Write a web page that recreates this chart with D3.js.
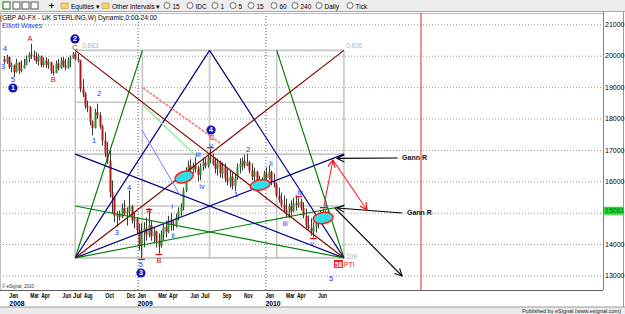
<!DOCTYPE html>
<html>
<head>
<meta charset="utf-8">
<script src="https://cdnjs.cloudflare.com/ajax/libs/d3/7.8.5/d3.min.js"></script>
<style>
  body { margin: 0; background: #fff; }
  svg { display: block; font-family: "Liberation Sans", Arial, sans-serif; }
</style>
</head>
<body>
<svg id="chart" width="625" height="314"></svg>
<script>
/* global d3 */

// weekly GBP/USD bars (x10000), first bar = week of 17 Dec 2007
var firstWeek = new Date(2007, 11, 17);
var opens = [
  19900,19800,19960,19640,19700,19480,19780,19520,19600,19700,
  19900,20050,20000,19950,19820,19980,19700,19850,19700,19800,
  19500,19450,19750,19600,19850,19700,19620,19880,19920,20050,
  19900,19850,18950,18800,18400,18350,17900,17700,18200,18100,
  17750,17300,16900,16650,15650,15500,14900,14950,14850,15150,
  14980,15050,15200,14750,14800,14450,13950,14400,14500,14300,
  14600,14250,14400,14100,13950,14300,14550,14400,14750,14650,
  14600,14850,15050,15200,15700,16300,16500,16350,16500,16400,
  16200,16450,16600,16500,16750,16700,16550,16400,16600,16250,
  16450,16100,16000,16150,15850,16100,16450,16550,16650,16500,
  16600,16350,16150,16300,16000,15950,16050,16250,16100,16300,
  16000,15900,15550,15400,15250,15100,15000,15200,15050,15300,
  15250,15350,15150,14900,14600,14500,14400,14550,14700,14800,
  14900,14850,15000
];
var highs = [
  19990,20030,19980,19790,19720,19900,19800,19850,19900,20010,
  20110,20380,20170,20110,20060,20010,19950,19950,19900,19810,
  19690,19850,19900,19950,19950,19900,19950,20010,20110,20110,
  20060,19870,19260,18840,18570,18400,17940,18310,18470,18200,
  17800,17560,17250,16980,16030,15520,15050,15070,15290,15400,
  15170,15710,15250,15000,14850,14660,14660,14700,14850,15070,
  14750,14530,14430,14340,14430,14660,14750,14900,15000,14750,
  14970,15170,15300,15800,16440,16660,16700,16600,16760,16500,
  16570,16760,16730,16820,17040,16880,16760,16730,16660,16600,
  16570,16410,16340,16280,16250,16570,16730,16760,16850,16880,
  16660,16570,16440,16340,16180,16120,16340,16440,16500,16340,
  16250,15960,15800,15640,15550,15450,15290,15390,15480,15550,
  15480,15450,15330,15130,14910,14820,14690,14820,14970,15070,
  15130,15070,15100
];
var lows = [
  19740,19740,19580,19470,19320,19460,19420,19470,19590,19690,
  19790,19900,19850,19740,19690,19630,19630,19600,19580,19420,
  19370,19440,19530,19580,19630,19530,19580,19630,19900,19850,
  19790,18840,18680,18310,18200,17780,17460,17680,17990,17670,
  17140,16770,16550,15480,14970,14690,14560,14750,14820,14900,
  14590,14900,14660,14500,14340,13800,13540,13900,14110,14210,
  14110,14020,13890,13700,13890,14110,14210,14350,14430,14430,
  14530,14750,14900,15070,15650,16120,16200,16250,16280,16000,
  16030,16340,16410,16440,16570,16500,16250,16180,16120,16090,
  15960,15870,15800,15740,15680,16050,16250,16340,16410,16480,
  16250,16030,15930,15870,15770,15800,15930,15960,16050,15870,
  15800,15480,15320,15160,15010,14850,14820,14910,15010,15070,
  15160,15070,14820,14500,14430,14270,14210,14370,14500,14660,
  14750,14820,14940
];
var closes = [
  19800,19960,19640,19700,19480,19780,19520,19600,19700,19900,
  20050,20000,19950,19820,19980,19700,19850,19700,19800,19500,
  19450,19750,19600,19850,19700,19620,19880,19920,20050,19900,
  19850,18950,18800,18400,18350,17900,17700,18200,18100,17750,
  17300,16900,16650,15650,15500,14900,14950,14850,15150,14980,
  15050,15200,14750,14800,14450,13950,14400,14500,14300,14600,
  14250,14400,14100,13950,14300,14550,14400,14750,14650,14600,
  14850,15050,15200,15700,16300,16500,16350,16500,16400,16200,
  16450,16600,16500,16750,16700,16550,16400,16600,16250,16450,
  16100,16000,16150,15850,16100,16450,16550,16650,16500,16600,
  16350,16150,16300,16000,15950,16050,16250,16100,16300,16000,
  15900,15550,15400,15250,15100,15000,15200,15050,15300,15250,
  15350,15150,14900,14600,14500,14400,14550,14700,14800,14900,
  14850,15000,15061
];
var lastPrice = 15061;

var priceTicks = [13000, 14000, 15000, 16000, 17000, 18000, 19000, 20000, 21000];
var monthTicks = ['2008-01', '2008-03', '2008-04', '2008-06', '2008-07', '2008-08', '2008-10', '2008-12',
  '2009-01', '2009-03', '2009-04', '2009-06', '2009-07', '2009-09', '2009-11',
  '2010-01', '2010-03', '2010-04', '2010-06'];
var yearTicks = ['2008-01', '2009-01', '2010-01'];
var timeMarker = new Date(2011, 2, 21);

// gann box: time span and price span
var gannStart = new Date(2008, 6, 7), gannEnd = new Date(2010, 7, 13);
var gannTop = 20170, gannBottom = 13560;
// fan lines: corner, target (fraction of width, fraction of height), colour
var fanLines = [
  ['bl', 0.25, 1, 'g'], ['bl', 0.5, 1, 'n'], ['bl', 1, 1, 'm'], ['bl', 1, 0.5, 'n'], ['bl', 1, 0.25, 'g'],
  ['br', 0.75, 1, 'g'], ['br', 0.5, 1, 'n'], ['br', 0, 1, 'm'], ['br', 0, 0.5, 'n'], ['br', 0, 0.25, 'g']
];

// other drawings, positions as [week index, price]
var channels = [
  [56.6, 18972, 88.1, 17220, '#f08080', '3,1', 1.6],
  [56.6, 18430, 78.7, 16774, '#90ee90', null, 1.4],
  [56.2, 17634, 71.7, 15564, '#7878ff', null, 1]
];
var arrows = [
  [160.5, 16740, 135.8, 16730, 'k'],
  [162.3, 14990, 135.8, 15150, 'k'],
  [134.9, 15150, 162.3, 12984, 'k'],
  [130.5, 15245, 134.1, 16678, 'r'],
  [134.1, 16678, 148.0, 15086, 'r']
];
var notes = [['Gann R', 162.3, 16750], ['Gann R', 164.3, 15020]];
var ellipses = [
  [73.4, 16137, 9.5, 5.5, -18],
  [104.4, 15882, 10, 5, -10],
  [130.1, 14831, 10, 5.5, -8]
];
var waveLabels = [
  ['4', 0.4, 20245, 'b'], ['3', -0.45, 19673, 'b'], ['5', 3.6, 19258, 'b'],
  ['A', 10.6, 20565, 'r'], ['B', 20, 19258, 'r'], ['C', 28.9, 20278, 'r'],
  ['2', 38.7, 18813, 'b'], ['1', 36.7, 17316, 'b'], ['4', 51, 15819, 'b'], ['3', 46, 14385, 'b'],
  ['A', 59.1, 15086, 'r'], ['5', 55.8, 13366, 'b'], ['B', 63.2, 13494, 'r'],
  ['i', 68.5, 15213, 'b'], ['ii', 68.9, 14290, 'b'], ['iii', 79.1, 16870, 'b'], ['iv', 80.7, 15850, 'b'],
  ['v', 84.4, 17157, 'b'], ['C', 84.8, 17411, 'r'], ['1', 94.6, 15596, 'b'], ['2', 99.5, 17029, 'b'],
  ['ii', 108.8, 16583, 'b'], ['iii', 114.6, 14672, 'b'], ['iv', 120.7, 15660, 'b'], ['v', 125.6, 14035, 'b'],
  ['4', 130.9, 15213, 'b'], ['5', 133.3, 12920, 'b']
];
var circledLabels = [['1', 3.6, 18972], ['2', 28.9, 20533], ['3', 55.8, 13080], ['4', 84.4, 17634]];
var tickMarks = [[56, 'l'], [59, 'h'], [63, 'l'], [84, 'h'], [120, 'h'], [126, 'l'], [130, 'h']];

var colours = {
  b: '#2a2aff', r: '#e00000', g: '#008000', n: '#000080', m: '#800000', k: '#000', up: '#2e8b2e', down: '#b01818'
};

var svg = d3.select('#chart');
var plotRight = 603, plotTop = 13, plotBottom = 290;

var x = d3.scaleTime()
    .domain([firstWeek, d3.timeWeek.offset(firstWeek, closes.length - 1)])
    .range([4.1, 327.8]);
var y = d3.scaleLinear().domain([13000, 21000]).range([275.5, 24.3]);
var parseMonth = d3.timeParse('%Y-%m');

function wx(i) { return x(new Date(firstWeek.getTime() + i * 7 * 864e5)); }

var bars = closes.map(function (c, i) {
  return { date: d3.timeWeek.offset(firstWeek, i), o: opens[i], h: highs[i], l: lows[i], c: c };
});

// markers
var defs = svg.append('defs');
['k', 'r'].forEach(function (k) {
  defs.append('marker')
    .attr('id', 'head-' + k)
    .attr('viewBox', '-1 -5 10 10')
    .attr('refX', 8).attr('refY', 0)
    .attr('markerWidth', 9).attr('markerHeight', 9)
    .attr('markerUnits', 'userSpaceOnUse')
    .attr('orient', 'auto')
    .append('path')
    .attr('d', 'M0,-4L8,0L0,4')
    .style('fill', 'none')
    .style('stroke', colours[k])
    .style('stroke-width', 1.2);
});

// toolbar
svg.append('rect').attr('x', 0).attr('y', 0).attr('width', 625).attr('height', 11).style('fill', '#ededed');
svg.append('line').attr('x1', 0).attr('x2', 625).attr('y1', 11.5).attr('y2', 11.5).style('stroke', '#a8a8a8');
var tb = svg.append('g').style('font-size', '6.5px').style('fill', '#000');
[['#3a8a3a', 3], ['#707070', 13], ['#707070', 22], ['#707070', 31]].forEach(function (ic) {
  tb.append('rect').attr('x', ic[1]).attr('y', 2).attr('width', 7).attr('height', 7)
    .style('fill', '#fff').style('stroke', ic[0]).style('stroke-width', 1.2);
});
tb.append('text').attr('x', 49).attr('y', 9).style('font-weight', 'bold').style('font-size', '9px').text('+');
[61, 102].forEach(function (fx) {
  tb.append('rect').attr('x', fx).attr('y', 3).attr('width', 7).attr('height', 5.5)
    .style('fill', '#f3d66a').style('stroke', '#b8962e').style('stroke-width', 0.6);
});
tb.append('text').attr('x', 71).attr('y', 8.5).text('Equities \u25be');
tb.append('text').attr('x', 112).attr('y', 8.5).text('Other Intervals \u25be');
[[167, '15'], [190, 'IDC'], [215, '1'], [233, '5'], [251, '15'], [274, '60'], [295, '240'], [319, 'Daily'], [350, 'Tick']]
  .forEach(function (b) {
    tb.append('circle').attr('cx', b[0]).attr('cy', 5.5).attr('r', 3)
      .style('fill', '#fff').style('stroke', '#333').style('stroke-width', 0.7);
    tb.append('text').attr('x', b[0] + 5.5).attr('y', 8.5).text(b[1]);
  });

// price grid
svg.append('g')
  .attr('class', 'grid')
  .call(d3.axisRight(y).tickValues(priceTicks).tickSize(plotRight).tickFormat(''))
  .call(function (g) { g.select('.domain').remove(); })
  .selectAll('line')
  .style('stroke', '#9a9a9a')
  .style('stroke-dasharray', '1,2');

// year grid
svg.append('g')
  .selectAll('line')
  .data(yearTicks.slice(1).map(parseMonth))
  .enter().append('line')
  .attr('x1', function (d) { return x(d) + 0.5; })
  .attr('x2', function (d) { return x(d) + 0.5; })
  .attr('y1', plotTop)
  .attr('y2', plotBottom)
  .style('stroke', '#555')
  .style('stroke-dasharray', '1,2');

// frame
svg.append('line').attr('x1', 0).attr('x2', plotRight).attr('y1', 13.5).attr('y2', 13.5).style('stroke', '#f4a0a0');
svg.append('line').attr('x1', plotRight + 0.5).attr('x2', plotRight + 0.5).attr('y1', 11).attr('y2', plotBottom)
  .style('stroke', '#808080');
svg.append('line').attr('x1', 0).attr('x2', plotRight).attr('y1', plotBottom + 0.5).attr('y2', plotBottom + 0.5)
  .style('stroke', '#606060');
svg.append('line').attr('x1', 0.5).attr('x2', 0.5).attr('y1', 11).attr('y2', plotBottom).style('stroke', '#c0c0c0');
svg.append('line').attr('x1', 623.5).attr('x2', 623.5).attr('y1', 11).attr('y2', 307).style('stroke', '#9a9a9a');
svg.append('line')
  .attr('x1', x(timeMarker)).attr('x2', x(timeMarker))
  .attr('y1', plotTop).attr('y2', plotBottom)
  .style('stroke', '#ee2222');

// gann box grid
var gx0 = x(gannStart), gx1 = x(gannEnd), gy0 = y(gannBottom), gy1 = y(gannTop);
function gpx(f) { return gx0 + f * (gx1 - gx0); }
function gpy(f) { return gy0 + f * (gy1 - gy0); }
var box = svg.append('g').style('stroke', '#c6c6c6').style('stroke-width', 1.6).style('fill', 'none');
[0, 0.25, 0.5, 0.75, 1].forEach(function (f) {
  box.append('line').attr('x1', gpx(f)).attr('x2', gpx(f)).attr('y1', gy1).attr('y2', gy0);
  box.append('line').attr('x1', gx0).attr('x2', gx1).attr('y1', gpy(f)).attr('y2', gpy(f));
});

// bars
var barG = svg.append('g');
barG.selectAll('.wick')
  .data(bars)
  .enter().append('line')
  .attr('class', 'wick')
  .attr('x1', function (d) { return Math.round(x(d.date)) + 0.5; })
  .attr('x2', function (d) { return Math.round(x(d.date)) + 0.5; })
  .attr('y1', function (d) { return y(d.h); })
  .attr('y2', function (d) { return y(d.l); })
  .style('stroke', '#3a3a3a');
barG.selectAll('.body')
  .data(bars)
  .enter().append('rect')
  .attr('class', 'body')
  .attr('x', function (d) { return Math.round(x(d.date)) - 0.5; })
  .attr('width', 2)
  .attr('y', function (d) { return y(Math.max(d.o, d.c)); })
  .attr('height', function (d) { return Math.max(1, Math.abs(y(d.o) - y(d.c))); })
  .style('fill', function (d) { return d.c >= d.o ? colours.up : colours.down; });

// fan lines
svg.append('g')
  .selectAll('line')
  .data(fanLines)
  .enter().append('line')
  .attr('x1', function (d) { return d[0] === 'bl' ? gx0 : gx1; })
  .attr('y1', gy0)
  .attr('x2', function (d) { return gpx(d[1]); })
  .attr('y2', function (d) { return gpy(d[2]); })
  .style('stroke', function (d) { return colours[d[3]]; })
  .style('stroke-width', 1.2);

// channel lines
svg.append('g')
  .selectAll('line')
  .data(channels)
  .enter().append('line')
  .attr('x1', function (d) { return wx(d[0]); })
  .attr('y1', function (d) { return y(d[1]); })
  .attr('x2', function (d) { return wx(d[2]); })
  .attr('y2', function (d) { return y(d[3]); })
  .style('stroke', function (d) { return d[4]; })
  .style('stroke-dasharray', function (d) { return d[5]; })
  .style('stroke-width', function (d) { return d[6]; });

// ellipses
svg.append('g')
  .selectAll('ellipse')
  .data(ellipses)
  .enter().append('ellipse')
  .attr('transform', function (d) { return 'translate(' + wx(d[0]) + ',' + y(d[1]) + ') rotate(' + d[4] + ')'; })
  .attr('rx', function (d) { return d[2]; })
  .attr('ry', function (d) { return d[3]; })
  .style('fill', '#2ee0e6')
  .style('stroke', '#ff1a1a')
  .style('stroke-width', 1.5);

// arrows
svg.append('g')
  .selectAll('line')
  .data(arrows)
  .enter().append('line')
  .attr('x1', function (d) { return wx(d[0]); })
  .attr('y1', function (d) { return y(d[1]); })
  .attr('x2', function (d) { return wx(d[2]); })
  .attr('y2', function (d) { return y(d[3]); })
  .attr('marker-end', function (d) { return 'url(#head-' + d[4] + ')'; })
  .style('stroke', function (d) { return d[4] === 'r' ? '#ff2020' : '#000'; })
  .style('stroke-width', 1.1);

svg.append('g')
  .selectAll('text')
  .data(notes)
  .enter().append('text')
  .attr('x', function (d) { return wx(d[1]); })
  .attr('y', function (d) { return y(d[2]); })
  .attr('dy', '0.35em')
  .style('font-size', '7px')
  .style('font-weight', 'bold')
  .style('fill', '#111')
  .text(function (d) { return d[0]; });

// red extreme ticks
svg.append('g')
  .selectAll('line')
  .data(tickMarks)
  .enter().append('line')
  .attr('x1', function (d) { return wx(d[0]) - 3; })
  .attr('x2', function (d) { return wx(d[0]) + 3.5; })
  .attr('y1', function (d) { return y(d[1] === 'h' ? highs[d[0]] : lows[d[0]]) + (d[1] === 'h' ? -1 : 1); })
  .attr('y2', function (d) { return y(d[1] === 'h' ? highs[d[0]] : lows[d[0]]) + (d[1] === 'h' ? -1 : 1); })
  .style('stroke', '#ee0000')
  .style('stroke-width', 1.2);

// elliott labels
svg.append('g')
  .selectAll('text')
  .data(waveLabels)
  .enter().append('text')
  .attr('x', function (d) { return wx(d[1]); })
  .attr('y', function (d) { return y(d[2]); })
  .attr('dy', '0.35em')
  .attr('text-anchor', 'middle')
  .style('font-size', '7.5px')
  .style('fill', function (d) { return colours[d[3]]; })
  .text(function (d) { return d[0]; });

var circ = svg.append('g')
  .selectAll('g')
  .data(circledLabels)
  .enter().append('g')
  .attr('transform', function (d) { return 'translate(' + wx(d[1]) + ',' + y(d[2]) + ')'; });
circ.append('circle').attr('r', 4.6).style('fill', '#1414b4');
circ.append('text')
  .attr('dy', '0.35em')
  .attr('text-anchor', 'middle')
  .style('font-size', '7px')
  .style('font-weight', 'bold')
  .style('fill', '#fff')
  .text(function (d) { return d[0]; });

// box labels
var bl = svg.append('g').style('font-size', '6.5px').style('fill', '#b4b4b4');
bl.append('text').attr('x', gx0 + 7).attr('y', gy1 - 2).text('0.683');
bl.append('text').attr('x', gx1 + 2).attr('y', gy1 - 2).text('0.806');
bl.append('text').attr('x', gx1 + 2).attr('y', gy0 + 1).text('109');
svg.append('rect').attr('x', gx1 - 10).attr('y', gy0 + 2).attr('width', 9).attr('height', 8).style('fill', '#e82020');
svg.append('text').attr('x', gx1 - 5.5).attr('y', gy0 + 8.6).attr('text-anchor', 'middle')
  .style('font-size', '6.5px').style('font-weight', 'bold').style('fill', '#fff').text('58');
svg.append('text').attr('x', gx1).attr('y', gy0 + 8.6)
  .style('font-size', '7px').style('fill', '#e82020').text('PTI');

// y axis labels (the last-price box covers the nearest one)
var yAxis = svg.append('g')
  .attr('transform', 'translate(' + plotRight + ',0)')
  .call(d3.axisRight(y)
    .tickValues(priceTicks.filter(function (v) { return Math.abs(v - lastPrice) > 300; }))
    .tickSize(0).tickPadding(2).tickFormat(d3.format('d')));
yAxis.select('.domain').remove();
yAxis.selectAll('text').style('font-size', '7px').style('font-family', '"Liberation Sans", Arial, sans-serif').style('fill', '#000');

var last = svg.append('g').attr('transform', 'translate(' + (plotRight + 1) + ',' + y(lastPrice) + ')');
last.append('rect').attr('x', 0).attr('y', -4).attr('width', 19).attr('height', 8).style('fill', '#22e022');
last.append('text').attr('x', 1).attr('dy', '0.35em').style('font-size', '7px').style('fill', '#063').text(lastPrice);

// x axis labels
var xAxis = svg.append('g')
  .attr('transform', 'translate(0,' + plotBottom + ')')
  .call(d3.axisBottom(x).tickValues(monthTicks.map(parseMonth)).tickSize(0).tickPadding(3)
    .tickFormat(d3.timeFormat('%b')));
xAxis.select('.domain').remove();
xAxis.selectAll('text').attr('text-anchor', 'start').attr('dx', '-0.5')
  .attr('textLength', 8.6).attr('lengthAdjust', 'spacingAndGlyphs')
  .style('font-size', '6.6px').style('font-weight', 'bold').style('font-family', '"Liberation Sans", Arial, sans-serif')
  .style('fill', '#000');

var yearAxis = svg.append('g')
  .attr('transform', 'translate(0,' + (plotBottom + 8.5) + ')')
  .call(d3.axisBottom(x).tickValues(yearTicks.map(parseMonth)).tickSize(0).tickPadding(3)
    .tickFormat(d3.timeFormat('%Y')));
yearAxis.select('.domain').remove();
yearAxis.selectAll('text').attr('text-anchor', 'start').attr('dx', '-0.5')
  .style('font-size', '6.8px').style('font-weight', 'bold').style('font-family', '"Liberation Sans", Arial, sans-serif')
  .style('fill', '#000');

// titles
svg.append('text').attr('x', 0).attr('y', 20)
  .attr('textLength', 157).attr('lengthAdjust', 'spacingAndGlyphs')
  .style('font-size', '7.5px').style('fill', '#000')
  .text('(GBP A0-FX - UK STERLING,W) Dynamic,0:00-24:00');
svg.append('text').attr('x', 2).attr('y', 28)
  .style('font-size', '7px').style('fill', '#2a3cff').text('Elliott Waves');
svg.append('text').attr('x', 2).attr('y', 288).style('font-size', '4.5px').style('fill', '#333')
  .text('\u00a9 eSignal, 2010');

// bottom strip
svg.append('rect').attr('x', 0).attr('y', 307).attr('width', 625).attr('height', 7).style('fill', '#ececec');
svg.append('line').attr('x1', 0).attr('x2', 625).attr('y1', 307).attr('y2', 307).style('stroke', '#9a9a9a');
svg.append('text').attr('x', 621).attr('y', 312.8).attr('text-anchor', 'end')
  .style('font-size', '5.5px').style('fill', '#222').text('Published by eSignal (www.esignal.com)');
</script>
</body>
</html>
